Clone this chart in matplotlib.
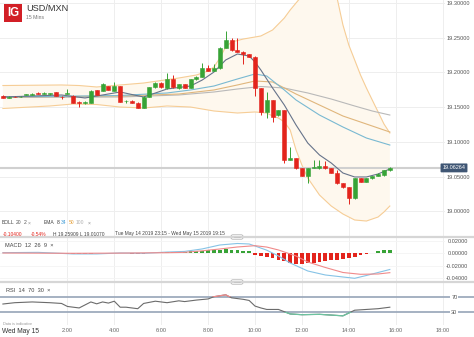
import matplotlib
matplotlib.use("Agg")
import matplotlib.pyplot as plt
from matplotlib.patches import Rectangle, FancyBboxPatch
import matplotlib.transforms as mtransforms

plt.rcParams['font.family'] = ['Liberation Sans', 'DejaVu Sans']

W, H = 474, 337

# ---------------- data ----------------
# 15-minute candles, first at 23:15 (hour -0.75 relative to Wed 00:00)
first_hour = -0.75
step_hours = 0.25
candle_open = [19.1664, 19.1631, 19.1648, 19.1646, 19.1672, 19.1678, 19.1707, 19.1693, 19.1684, 19.1713,
               19.1652, 19.1695, 19.1664, 19.1578, 19.1555, 19.1563, 19.1746, 19.1736, 19.1803, 19.1736,
               19.1803, 19.1585, 19.1588, 19.1563, 19.1491, 19.1649, 19.1784, 19.1851, 19.1770, 19.1899,
               19.1770, 19.1828, 19.1779, 19.1899, 19.1937, 19.2057, 19.2019, 19.2057, 19.2353, 19.2464,
               19.2320, 19.2296, 19.2259, 19.2224, 19.1770, 19.1434, 19.1602, 19.1386, 19.1458, 19.0740,
               19.0764, 19.0621, 19.0510, 19.0625, 19.0621, 19.0654, 19.0621, 19.0553, 19.0405, 19.0348,
               19.0190, 19.0481, 19.0428, 19.0477, 19.0510, 19.0524, 19.0596]
candle_high = [19.1672, 19.1656, 19.1655, 19.1660, 19.1690, 19.1698, 19.1712, 19.1712, 19.1704, 19.1718,
               19.1660, 19.1756, 19.1670, 19.1590, 19.1585, 19.1745, 19.1752, 19.1842, 19.1810, 19.1865,
               19.1810, 19.1600, 19.1596, 19.1570, 19.1656, 19.1790, 19.1858, 19.1858, 19.1994, 19.1960,
               19.1835, 19.1835, 19.1906, 19.1944, 19.2138, 19.2110, 19.2115, 19.2360, 19.2591, 19.2489,
               19.2489, 19.2303, 19.2266, 19.2231, 19.1777, 19.1721, 19.1609, 19.1465, 19.1465, 19.0927,
               19.0771, 19.0628, 19.0628, 19.0740, 19.0740, 19.0726, 19.0628, 19.0596, 19.0412, 19.0355,
               19.0488, 19.0488, 19.0484, 19.0517, 19.0546, 19.0603, 19.0633]
candle_low = [19.1628, 19.1624, 19.1640, 19.1640, 19.1668, 19.1672, 19.1688, 19.1688, 19.1680, 19.1655,
              19.1612, 19.1690, 19.1552, 19.1506, 19.1548, 19.1555, 19.1668, 19.1730, 19.1740, 19.1730,
              19.1570, 19.1560, 19.1556, 19.1484, 19.1484, 19.1642, 19.1778, 19.1778, 19.1764, 19.1778,
              19.1764, 19.1772, 19.1772, 19.1892, 19.1930, 19.2012, 19.2012, 19.2050, 19.2346, 19.2313,
              19.2289, 19.2120, 19.2217, 19.1659, 19.1386, 19.1343, 19.1290, 19.1379, 19.0697, 19.0733,
              19.0614, 19.0503, 19.0410, 19.0618, 19.0614, 19.0614, 19.0546, 19.0398, 19.0341, 19.0107,
              19.0183, 19.0421, 19.0421, 19.0470, 19.0503, 19.0517, 19.0589]
candle_close = [19.1635, 19.1649, 19.1644, 19.1652, 19.1684, 19.1693, 19.1693, 19.1707, 19.1698, 19.1659,
                19.1649, 19.1700, 19.1563, 19.1555, 19.1578, 19.1736, 19.1674, 19.1828, 19.1746, 19.1807,
                19.1578, 19.1590, 19.1563, 19.1491, 19.1649, 19.1784, 19.1851, 19.1784, 19.1899, 19.1784,
                19.1828, 19.1780, 19.1899, 19.1937, 19.2057, 19.2019, 19.2057, 19.2353, 19.2464, 19.2320,
                19.2296, 19.2263, 19.2224, 19.1770, 19.1434, 19.1602, 19.1362, 19.1458, 19.0740, 19.0769,
                19.0621, 19.0510, 19.0621, 19.0639, 19.0654, 19.0621, 19.0553, 19.0405, 19.0348, 19.0190,
                19.0481, 19.0428, 19.0477, 19.0510, 19.0539, 19.0596, 19.0626]

# Bollinger bands (20, 2), read at candle indices
boll_up_idx = [0, 10, 13, 16, 20, 24, 27, 30, 33, 35, 36, 37, 38, 39, 41, 43, 44, 46, 48, 49, 50, 51, 53,
               55, 57, 58, 59, 60, 61, 62, 63, 64, 65, 66]
boll_upper = [19.1810, 19.1818, 19.1810, 19.1789, 19.1818, 19.1846, 19.1882, 19.1918, 19.1961, 19.2019,
              19.2076, 19.2205, 19.2364, 19.2435, 19.2478, 19.2507, 19.2522, 19.2608, 19.2780, 19.2895,
              19.2996, 19.3096, 19.3211, 19.3183, 19.3068, 19.2680, 19.2392, 19.2177, 19.1961, 19.1775,
              19.1602, 19.1430, 19.1257, 19.1128]
boll_lo_idx = [0, 8, 12, 16, 20, 24, 28, 32, 36, 40, 43, 45, 46, 47, 48, 49, 50, 51, 52, 54, 56, 58, 60,
               62, 64, 65, 66]
boll_lower = [19.1480, 19.1516, 19.1545, 19.1537, 19.1501, 19.1487, 19.1516, 19.1501, 19.1444, 19.1415,
              19.1430, 19.1415, 19.1372, 19.1343, 19.1286, 19.1171, 19.0884, 19.0668, 19.0481, 19.0237,
              19.0079, 18.9964, 18.9878, 18.9863, 18.9921, 18.9993, 19.0079]

# EMAs read at candle indices
ema8_idx = [0, 10, 14, 20, 24, 28, 32, 34, 36, 38, 40, 42, 43, 44, 46, 48, 50, 52, 54, 56, 58, 60, 62, 64, 66]
ema8 = [19.1645, 19.1674, 19.1631, 19.1717, 19.1645, 19.1760, 19.1803, 19.1889, 19.2004, 19.2177,
        19.2263, 19.2234, 19.2148, 19.2033, 19.1774, 19.1530, 19.1243, 19.0984, 19.0812, 19.0697,
        19.0553, 19.0496, 19.0496, 19.0539, 19.0611]
ema34_idx = [0, 10, 20, 28, 32, 36, 40, 43, 45, 48, 50, 54, 58, 62, 66]
ema34 = [19.1649, 19.1655, 19.1667, 19.1703, 19.1746, 19.1803, 19.1904, 19.1976, 19.1947, 19.1746,
         19.1602, 19.1386, 19.1214, 19.1056, 19.0955]
ema50_idx = [0, 20, 30, 36, 40, 43, 46, 50, 54, 58, 62, 66]
ema50 = [19.1645, 19.1659, 19.1688, 19.1746, 19.1818, 19.1875, 19.1861, 19.1688, 19.1530, 19.1372,
         19.1257, 19.1142]
ema100_idx = [0, 20, 30, 36, 40, 44, 48, 52, 56, 60, 63, 66]
ema100 = [19.1638, 19.1645, 19.1674, 19.1717, 19.1760, 19.1796, 19.1774, 19.1703, 19.1616, 19.1516,
          19.1444, 19.1386]

last_price = 19.06264

# MACD (12, 26, 9)
macd_idx = [0, 6, 12, 16, 20, 24, 28, 31, 34, 37, 40, 42, 43, 45, 47, 49, 52, 55, 58, 60, 62, 64, 66]
macd_line = [0.0010, 0.0015, -0.0010, -0.0010, 0.0005, 0.0000, 0.0020, 0.0030, 0.0070, 0.0133, 0.0157,
             0.0149, 0.0117, 0.0050, -0.0043, -0.0155, -0.0283, -0.0347, -0.0379, -0.0400, -0.0355,
             -0.0307, -0.0259]
signal_idx = [0, 12, 20, 28, 31, 34, 37, 40, 43, 45, 47, 50, 52, 55, 58, 61, 64, 66]
signal_line = [0.0005, 0.0000, 0.0003, 0.0010, 0.0015, 0.0040, 0.0069, 0.0101, 0.0122, 0.0100, 0.0053,
               -0.0043, -0.0139, -0.0227, -0.0307, -0.0336, -0.0331, -0.0310]
macd_hist = [0.0003, 0.0004, 0.0004, 0.0005, 0.0006, 0.0006, 0.0005, 0.0004, 0.0003, 0.0001,
             -0.0003, -0.0004, -0.0008, -0.0010, -0.0009, -0.0004, -0.0002, 0.0003, 0.0004, 0.0006,
             0.0001, -0.0003, -0.0005, -0.0007, -0.0004, 0.0002, 0.0008, 0.0020, 0.0022, 0.0025,
             0.0025, 0.0028, 0.0030, 0.0035, 0.0040, 0.0045, 0.0055, 0.0060, 0.0064, 0.0060,
             0.0050, 0.0040, 0.0030, -0.0020, -0.0050, -0.0055, -0.0070, -0.0100, -0.0130, -0.0150,
             -0.0165, -0.0170, -0.0160, -0.0155, -0.0145, -0.0130, -0.0115, -0.0100, -0.0085, -0.0075,
             -0.0065, -0.0030, -0.0010, 0.0010, 0.0030, 0.0045, 0.0050]

# RSI (14)
rsi_idx = [0, 2, 5, 8, 10, 11, 13, 14, 15, 16, 17, 18, 19, 20, 21, 23, 24, 26, 28, 30, 31, 33, 35, 36,
           38, 39, 41, 42, 43, 44, 45, 47, 48, 49, 51, 54, 56, 58, 60, 62, 64, 66]
rsi = [50.5, 54, 56, 54, 52, 44, 40, 48, 56, 51, 56, 53, 58, 42, 42, 38, 52, 58, 54, 59, 57, 61, 64, 70,
       75, 67, 63, 60, 45, 40, 36, 36, 30, 24, 22, 23, 21, 19, 34, 36, 38, 42]

price_ticks = [19.00, 19.05, 19.10, 19.15, 19.20, 19.25, 19.30]
price_tick_labels = ['19.00000', '19.05000', '19.10000', '19.15000', '19.20000', '19.25000', '19.30000']
macd_ticks = [0.02, 0.0, -0.02, -0.04]
macd_tick_labels = ['0.02000', '0.00000', '-0.02000', '-0.04000']
rsi_levels = [70, 30]
rsi_tick_labels = ['70', '30']
time_ticks = [0, 2, 4, 6, 8, 10, 12, 14, 16, 18]
time_labels = ['Wed May 15', '2:00', '4:00', '6:00', '8:00', '10:00', '12:00', '14:00', '16:00', '18:00']
grid_hours = [2, 4, 6, 8, 10, 12, 14, 16, 18]

# ---------------- styling ----------------
UP = '#37a336'
DOWN = '#e3241c'
GRID = '#eeeeee'
TXT = '#555555'

def hrs(idx_list):
    return [first_hour + step_hours * i for i in idx_list]

n = len(candle_close)
t = hrs(range(n))

fig = plt.figure(figsize=(W / 100, H / 100), dpi=100)
fig.patch.set_facecolor('white')

PX0, PX_PER_H = 20.5, 23.45
AX_W = 445
xlim = (-PX0 / PX_PER_H, (AX_W - PX0) / PX_PER_H)

def add_ax(top, bottom):
    ax = fig.add_axes([0, 1 - bottom / H, AX_W / W, (bottom - top) / H])
    ax.set_xlim(*xlim)
    for s in ax.spines.values():
        s.set_visible(False)
    ax.set_facecolor('none')
    for gh in grid_hours:
        ax.axvline(gh, color=GRID, lw=0.7, zorder=0)
    return ax

# ---- main price panel ----
ax = add_ax(0, 237)
ax.set_ylim(18.96336, 19.30388)
for p in price_ticks:
    ax.axhline(p, color=GRID, lw=0.7, zorder=0)
ax.yaxis.tick_right()
ax.set_yticks(price_ticks, price_tick_labels)
ax.tick_params(axis='y', length=0, pad=1.4, labelsize=4.1, labelcolor=TXT)
ax.set_xticks([])

# Bollinger band fill + edges
poly_x = hrs(boll_up_idx) + hrs(boll_lo_idx)[::-1]
poly_y = boll_upper + boll_lower[::-1]
ax.fill(poly_x, poly_y, color='#fef8ee', zorder=1, lw=0)
ax.plot(hrs(boll_up_idx), boll_upper, color='#f6cd96', lw=0.8, zorder=2)
ax.plot(hrs(boll_lo_idx), boll_lower, color='#f6cd96', lw=0.8, zorder=2)

ax.axhline(last_price, color='#d0d0d0', lw=1.5, zorder=2)

ax.plot(hrs(ema100_idx), ema100, color='#b9b9b9', lw=0.8, zorder=3)
ax.plot(hrs(ema50_idx), ema50, color='#e0b67c', lw=0.8, zorder=3)
ax.plot(hrs(ema34_idx), ema34, color='#79b9d2', lw=0.8, zorder=3)
ax.plot(hrs(ema8_idx), ema8, color='#66738a', lw=0.8, zorder=3)

body_w = 0.17
for ti, o, h, l, c in zip(t, candle_open, candle_high, candle_low, candle_close):
    col = UP if c >= o else DOWN
    ax.vlines(ti, l, h, color=col, lw=0.7, zorder=4)
    ax.bar(ti, c - o, bottom=o, width=body_w, color=col, edgecolor=col, lw=0.4, zorder=5)

trans_last = mtransforms.blended_transform_factory(ax.transAxes, ax.transData)
ax.text(442.5 / AX_W, last_price, '19.06264', transform=trans_last, ha='left', va='center',
        fontsize=4.0, color='white', clip_on=False, zorder=10,
        bbox=dict(boxstyle='round,pad=0.35,rounding_size=0.15', facecolor='#3f5674', edgecolor='none'))

# ---- MACD panel ----
axm = add_ax(237, 282)
axm.set_ylim(-0.04592, 0.02608)
for v in macd_ticks:
    axm.axhline(v, color='#f4f4f4', lw=0.6, zorder=0)
axm.bar(t, macd_hist, width=0.16, color=[UP if v >= 0 else DOWN for v in macd_hist], lw=0, zorder=2)
axm.plot(hrs(macd_idx), macd_line, color='#86c3e6', lw=0.8, zorder=3)
axm.plot(hrs(signal_idx), signal_line, color='#f08a8a', lw=0.8, zorder=3)
axm.yaxis.tick_right()
axm.set_yticks(macd_ticks, macd_tick_labels)
axm.tick_params(axis='y', length=0, pad=16.5, labelsize=4.1, labelcolor=TXT)
for lb in axm.get_yticklabels():
    lb.set_horizontalalignment('right')
axm.set_xticks([])

# ---- RSI panel ----
axr = add_ax(282, 325)
axr.set_ylim(-5.47, 109.2)
for lv in rsi_levels:
    axr.axhline(lv, xmin=0, xmax=W / AX_W, color='#9eabbd', lw=1.3, zorder=1, clip_on=False)
rsi_t = hrs(rsi_idx)
axr.plot(rsi_t, rsi, color='#6b6b6b', lw=0.8, zorder=3)
hi_line, = axr.plot(rsi_t, rsi, color='#f08a8a', lw=0.9, zorder=4)
hi_line.set_clip_path(Rectangle((xlim[0], 70), xlim[1] - xlim[0], 100, transform=axr.transData))
lo_line, = axr.plot(rsi_t, rsi, color='#6cc3a0', lw=0.9, zorder=4)
lo_line.set_clip_path(Rectangle((xlim[0], -50), xlim[1] - xlim[0], 80, transform=axr.transData))
axr.yaxis.tick_right()
axr.set_yticks(rsi_levels, rsi_tick_labels)
axr.tick_params(axis='y', length=0, pad=4.5, labelsize=4.1, labelcolor=TXT)
for lb in axr.get_yticklabels():
    lb.set_bbox(dict(facecolor='white', edgecolor='none', pad=0.6))
    lb.set_zorder(10)
axr.set_xticks(time_ticks, time_labels)
axr.tick_params(axis='x', length=0, pad=2.3, labelsize=4.1, labelcolor='#666666')
xl0 = axr.get_xticklabels()[0]
xl0.set_fontsize(4.8)
xl0.set_color('#333333')

# ---- figure-level decorations ----
def fx(x):
    return x / W

def fy(y):
    return 1 - y / H

# separators with handles
for ys in (237, 282):
    fig.add_artist(plt.Line2D([0, 1], [fy(ys), fy(ys)], color='#d6d6d6', lw=1.6))
    fig.add_artist(FancyBboxPatch((fx(231), fy(ys + 2.2)), 12 / W, 4.4 / H,
                                  boxstyle='round,pad=0,rounding_size=0.004',
                                  facecolor='white', edgecolor='#a8a8a8', lw=0.5))
    fig.add_artist(plt.Line2D([fx(233.5), fx(240.5)], [fy(ys), fy(ys)], color='#b0b0b0', lw=0.5,
                              linestyle=(0, (1, 0.6))))

# IG logo and title
fig.add_artist(Rectangle((fx(4), fy(21.7)), 17.7 / W, 17.7 / H, facecolor='#d21f26', edgecolor='none'))
fig.text(fx(12.9), fy(13.3), 'IG', ha='center', va='center', fontsize=8.3, fontweight='bold', color='white')
fig.text(fx(26), fy(8.6), 'USD/MXN', ha='left', va='center', fontsize=6.6, color='#333333')
fig.text(fx(26), fy(17.6), '15 Mins', ha='left', va='center', fontsize=3.7, color='#777777')

# legend rows
row1 = [(1.7, 'BOLL', '#444444'), (16, '20', '#555555'), (23.5, '2', '#555555'), (27.5, '×', '#888888'),
        (44, 'EMA', '#444444'), (56.5, '8', '#333333'), (61, '34', '#3d9ad6'), (68.5, '50', '#e6a23c'),
        (76, '100', '#b0b0b0'), (88, '×', '#888888')]
for x, s, c in row1:
    fig.text(fx(x), fy(222.7), s, ha='left', va='center', fontsize=3.6, color=c)

row2 = [(3, '-0.10400', '#e3241c'), (31, '-0.54%', '#e3241c'), (53, 'H 19.25909', '#444444'),
        (80, 'L 19.01070', '#444444'),
        (115, 'Tue May 14 2019 23:15 - Wed May 15 2019 19:15', '#444444')]
for x, s, c in row2:
    fig.text(fx(x), fy(234), s, ha='left', va='center', fontsize=3.5, color=c)

fig.text(fx(5), fy(245.5), 'MACD  12  26  9  ×', ha='left', va='center', fontsize=4.1, color='#444444')
fig.text(fx(6), fy(290), 'RSI  14  70  30  ×', ha='left', va='center', fontsize=4.1, color='#444444')
fig.text(fx(3), fy(324), 'Data is indicative', ha='left', va='center', fontsize=2.8, color='#999999')

fig.savefig('out.png', dpi=100, facecolor='white')
